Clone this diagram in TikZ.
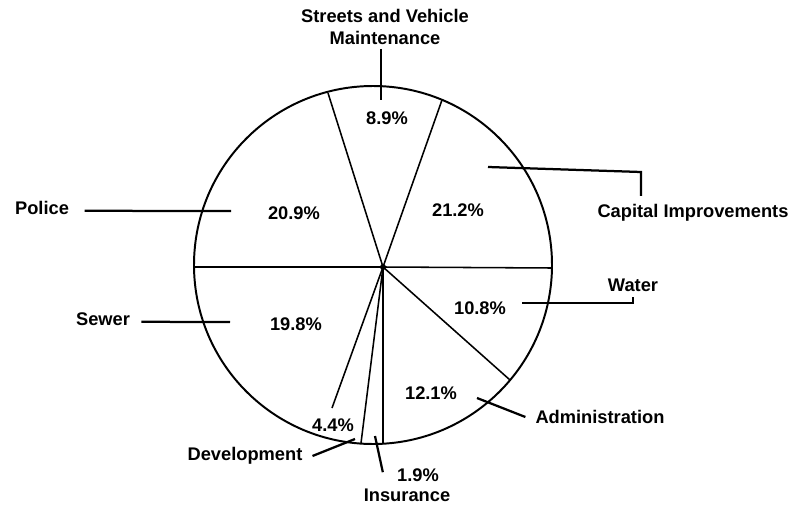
\documentclass[tikz,border=0pt]{standalone}
\usepackage{fontspec}
\setsansfont{Liberation Sans}
\usetikzlibrary{positioning}

\begin{document}
\begin{tikzpicture}[
        x=0.025cm,
        y=-0.025cm,
        lbl/.style={
            font=\sffamily\bfseries\fontsize{13}{15}\selectfont,
            inner sep=1pt,
            align=center
        },
        pct/.style={lbl},
        rim/.style={line width=1.4pt},
        spoke/.style={line width=1.1pt},
        leader/.style={line width=1.6pt}
    ]
    \useasboundingbox (0,0) rectangle (811,506);
    % pie outline and spokes
    \coordinate (ctr) at (373,265);
    \coordinate (hub) at (383,267);
    \draw[rim] (ctr) circle[radius=179];
    \coordinate (sp left) at (193,267);
    \coordinate (sp police) at (328,93);
    \coordinate (sp streets) at (442,100);
    \coordinate (sp capital) at (552,268);
    \coordinate (sp water) at (510,380);
    \coordinate (sp admin) at (383,443);
    \coordinate (sp insur) at (361,443);
    \coordinate (sp devel) at (332,408);
    \draw[line width=1.5pt] (hub) -- (sp left);
    \foreach \s in {police,streets,capital,water,admin,insur,devel}
        \draw[spoke] (hub) -- (sp \s);
    \fill (hub) circle[radius=3];

    % percentages
    \node[pct] (p streets) at (387,118) {8.9\%};
    \node[pct] (p capital) at (458,210) {21.2\%};
    \node[pct] (p police) at (294,213) {20.9\%};
    \node[pct] (p sewer) at (296,324) {19.8\%};
    \node[pct] (p water) at (480,308) {10.8\%};
    \node[pct] (p admin) at (431,393) {12.1\%};
    \node[pct] (p devel) at (333,425) {4.4\%};
    \node[pct] (p insur) at (418,475) {1.9\%};

    % category labels
    \node[lbl] (streets) at (385,27) {Streets and Vehicle\\Maintenance};
    \node[lbl] (police) at (42,208) {Police};
    \node[lbl] (sewer) at (103,319) {Sewer};
    \node[lbl] (capital) at (693,213) {Capital Improvements};
    \node[lbl] (water) at (633,285) {Water};
    \node[lbl] (admin) at (600,417) {Administration};
    \node[lbl] (devel) at (245,456) {Development};
    \node[lbl] (insur) at (407,495) {Insurance};

    % leaders
    \coordinate (l streets) at (381,100);
    \coordinate (l police) at (231,211);
    \coordinate (l sewer) at (230,322);
    \coordinate (l capital) at (488,167);
    \coordinate (k capital) at (641,172);
    \coordinate (l water) at (522,303);
    \coordinate (k water) at (633,303);
    \coordinate (l admin) at (477,398);
    \coordinate (l devel) at (355,439);
    \coordinate (l insur) at (375,436);
    \draw[leader] ([yshift=-2pt]l streets |- streets.south) -- (l streets);
    \draw[leader] ([xshift=10pt,yshift=-2pt]police.east) -- (l police);
    \draw[leader] ([xshift=7pt,yshift=-2pt]sewer.east) -- (l sewer);
    \draw[leader] (l capital) -- (k capital) -- ([yshift=5pt]k capital |- capital.north);
    \draw[leader] (l water) -- (k water) -- ([yshift=-3pt]k water |- water.south);
    \draw[leader] (l admin) -- ([xshift=-6pt]admin.west);
    \draw[leader] ([xshift=6pt]devel.east) -- (l devel);
    \draw[leader] ([xshift=-9pt,yshift=2pt]p insur.west) -- (l insur);
\end{tikzpicture}
\end{document}
